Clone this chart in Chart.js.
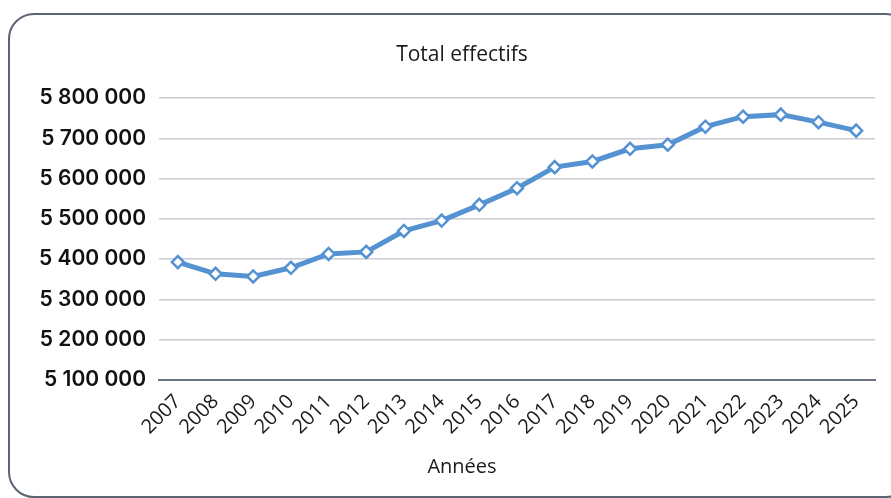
<!DOCTYPE html>
<html lang="fr">
<head>
<meta charset="utf-8">
<title>Total effectifs</title>
<script src="https://cdn.jsdelivr.net/npm/chart.js@4"></script>
<style>
  html, body { margin: 0; padding: 0; background: #fff; overflow: hidden; }
  .frame {
    position: absolute; left: 8px; top: 13px; width: 900px; height: 481px;
    border: 2px solid #5c6473; border-radius: 26px;
  }
  #effectifsChart { position: absolute; left: 0; top: 0; }
</style>
</head>
<body>
<div class="frame"></div>
<canvas id="effectifsChart" width="891" height="498"></canvas>
<script>
// Années et total des effectifs
const years = ['2007', '2008', '2009', '2010', '2011', '2012', '2013', '2014', '2015', '2016',
  '2017', '2018', '2019', '2020', '2021', '2022', '2023', '2024', '2025'];
const effectifs = [5392600, 5363600, 5357000, 5378500, 5413000, 5418000, 5470000, 5495800, 5534800, 5576000,
  5628400, 5642500, 5674000, 5684000, 5728900, 5753700, 5758700, 5740000, 5719000];
const yMin = 5100000;
const yMax = 5800000;
const yStep = 100000;

const chartTitle = 'Total effectifs';
const xTitle = 'Années';

const lineColor = '#5492d2';
const textColor = '#1a1a1a';

// "5 800 000"
const formatNombre = (v) => String(v).replace(/\B(?=(\d{3})+(?!\d))/g, ' ');

// chart title and x axis title share the same centre line, a bit left of the plot centre
const titlesPlugin = {
  id: 'titles',
  afterDraw(chart) {
    const c = chart.ctx;
    const cx = 462;
    c.save();
    c.fillStyle = textColor;
    c.textAlign = 'center';
    c.textBaseline = 'middle';
    c.font = '21px "Open Sans"';
    c.fillText(chartTitle, cx, 55);
    c.font = '20px "Open Sans"';
    c.fillText(xTitle, cx, 467);
    c.restore();
  }
};

const ctx = document.getElementById('effectifsChart');

new Chart(ctx, {
  type: 'line',
  data: {
    labels: years,
    datasets: [
      {
        label: chartTitle,
        data: effectifs,
        borderColor: lineColor,
        borderWidth: 5,
        backgroundColor: '#fff',
        pointStyle: 'rectRot',
        pointRadius: 6,
        pointBorderWidth: 2.5,
        pointBackgroundColor: '#fff',
        pointBorderColor: lineColor,
        tension: 0,
        fill: false
      }
    ]
  },
  plugins: [titlesPlugin],
  options: {
    responsive: false,
    animation: false,
    layout: { padding: { left: 0, right: 16, top: 98, bottom: 0 } },
    plugins: {
      legend: { display: false },
      tooltip: { enabled: false },
      title: { display: false }
    },
    scales: {
      x: {
        offset: true,
        grid: { display: false },
        border: { display: true, color: '#6b7280', width: 2 },
        ticks: {
          color: textColor,
          font: { family: 'Open Sans', size: 20 },
          maxRotation: 45,
          minRotation: 45,
          autoSkip: false,
          padding: 2
        },
        afterFit: (axis) => { axis.height = 118; }
      },
      y: {
        min: yMin,
        max: yMax,
        border: { display: false },
        grid: {
          color: '#c9ccd4',
          lineWidth: 1.5,
          drawTicks: false
        },
        ticks: {
          stepSize: yStep,
          color: '#111',
          padding: 13,
          font: { family: 'Inter', size: 21, weight: '600' },
          callback: (v) => formatNombre(v)
        },
        afterFit: (axis) => { axis.width = 159; }
      }
    }
  }
});
</script>
</body>
</html>
